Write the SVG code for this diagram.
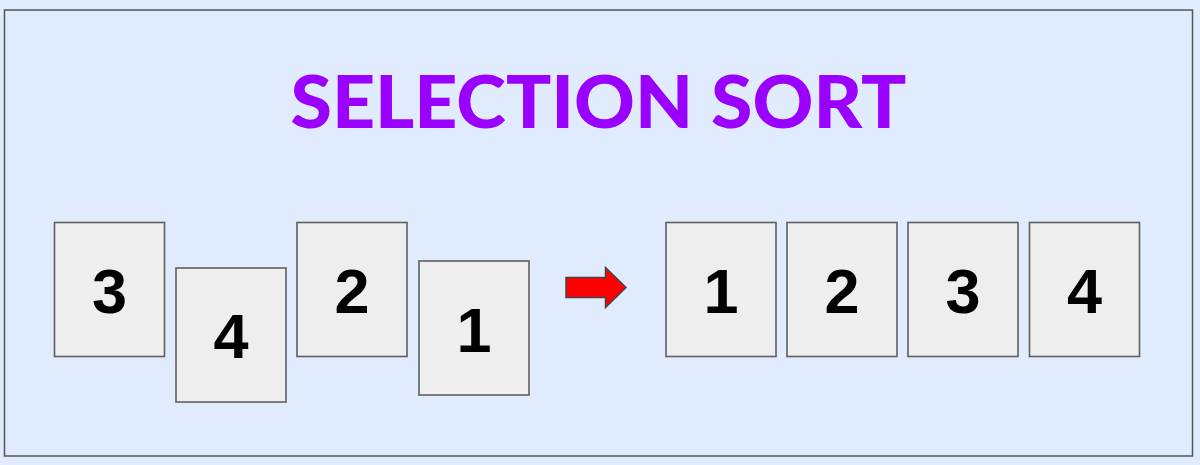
<svg xmlns="http://www.w3.org/2000/svg" width="1200" height="465" viewBox="0 0 1200 465">
<style>
.card{fill:#eeeeee;stroke:#5f5f5f;stroke-width:1.6}
.num{font-family:"Liberation Sans",Arial,sans-serif;font-weight:bold;font-size:63px;fill:#000000;text-anchor:middle}
.title{font-family:Lato,"Open Sans",sans-serif;font-weight:900;font-size:72px;fill:#9900ff;text-anchor:middle}
</style>
<rect x="0" y="0" width="1200" height="465" fill="#e0ebfd"/>
<rect id="frame" x="4.5" y="10" width="1188" height="446" fill="#e0ebfd" stroke="#555555" stroke-width="1.5"/>
<text id="title" class="title" x="598.5" y="128" textLength="616" lengthAdjust="spacingAndGlyphs">SELECTION SORT</text>
<g id="u3"><rect class="card" x="54.5" y="222.5" width="110" height="134"/><text class="num" x="109.5" y="312.5">3</text></g>
<g id="u4"><rect class="card" x="176" y="268" width="110" height="134"/><text class="num" x="231" y="358">4</text></g>
<g id="u2"><rect class="card" x="297" y="222.5" width="110" height="134"/><text class="num" x="352" y="312.5">2</text></g>
<g id="u1"><rect class="card" x="419" y="261" width="110" height="134"/><text class="num" x="474" y="351.5">1</text></g>
<g id="connectors">
<path id="arrow" d="M566 277.5 H605.5 V267.5 L626 287.5 L605.5 307.5 V297.5 H566 Z" fill="#ff0000" stroke="#444444" stroke-width="1.5"/>
</g>
<g id="s1"><rect class="card" x="666" y="222.5" width="110" height="134"/><text class="num" x="721" y="312.5">1</text></g>
<g id="s2"><rect class="card" x="787" y="222.5" width="110" height="134"/><text class="num" x="842" y="312.5">2</text></g>
<g id="s3"><rect class="card" x="908" y="222.5" width="110" height="134"/><text class="num" x="963" y="312.5">3</text></g>
<g id="s4"><rect class="card" x="1029.5" y="222.5" width="110" height="134"/><text class="num" x="1084.5" y="312.5">4</text></g>
</svg>
